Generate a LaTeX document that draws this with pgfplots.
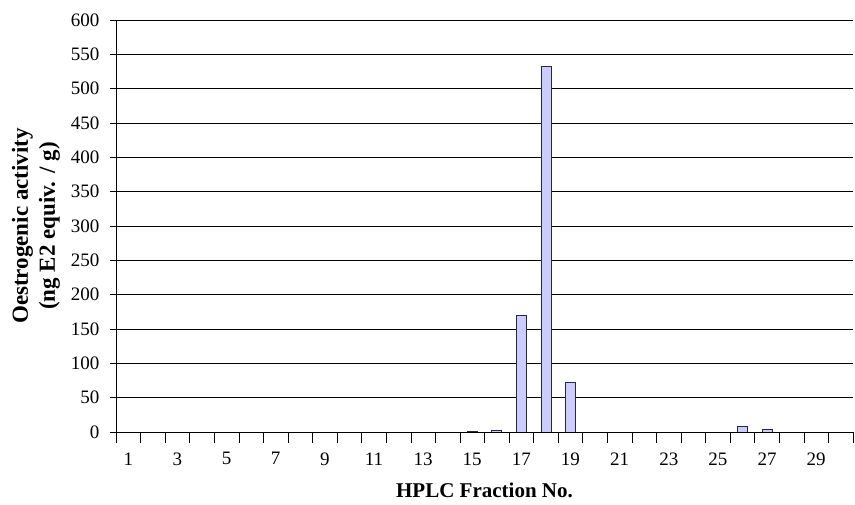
\documentclass[border=0pt]{standalone}
\usepackage{pgfplots}
\pgfplotsset{compat=1.18}
\usepackage{fontspec}
\setmainfont{Liberation Serif}
\definecolor{barfill}{RGB}{204,204,255}
\definecolor{baredge}{RGB}{40,40,60}
\begin{document}
\begin{tikzpicture}
\useasboundingbox (-116bp,-73bp) rectangle (739bp,432bp);
\begin{axis}[
  scale only axis,
  width=737bp, height=412bp,
  xmin=0.5, xmax=30.5,
  ymin=0, ymax=600,
  ytick={0,50,...,600},
  xtick={1,3,...,29},
  minor xtick={0.5,1.5,...,30.5},
  major x tick style={draw=none},
  tick align=center,
  minor tick length=11bp,
  major tick length=12bp,
  ymajorgrids,
  grid style={black, line width=0.6pt},
  axis line style={black, line width=0.8pt},
  axis x line*=bottom,
  axis y line*=left,
  tick style={black, line width=0.6pt},
  /pgf/number format/assume math mode=true,
  tick label style={font=\fontsize{19bp}{21bp}\selectfont},
  xticklabel style={yshift=-5bp},
  yticklabel style={xshift=-7bp},
  xlabel={\textbf{HPLC Fraction No.}},
  xlabel style={at={(axis description cs:0.5,0)}, anchor=center, yshift=-58bp, font=\fontsize{21bp}{24bp}\selectfont},
  ylabel={\textbf{Oestrogenic activity}\\\textbf{(ng E2 equiv. / g)}},
  ylabel style={at={([xshift=-80bp]axis description cs:0,0.5)}, anchor=center, rotate=0, align=center, font=\fontsize{23bp}{27bp}\selectfont},
  ybar, bar width=10bp,
]
\addplot[fill=barfill, draw=baredge, line width=0.8pt] coordinates {
(1,0) (2,0) (3,0) (4,0) (5,0) (6,0) (7,0) (8,0) (9,0) (10,0)
(11,0) (12,0) (13,0) (14,0) (15,0.6) (16,3) (17,170) (18,533) (19,72) (20,0)
(21,0) (22,0) (23,0) (24,0) (25,0) (26,8) (27,4) (28,0) (29,0) (30,0)
};
\end{axis}
\end{tikzpicture}
\end{document}
